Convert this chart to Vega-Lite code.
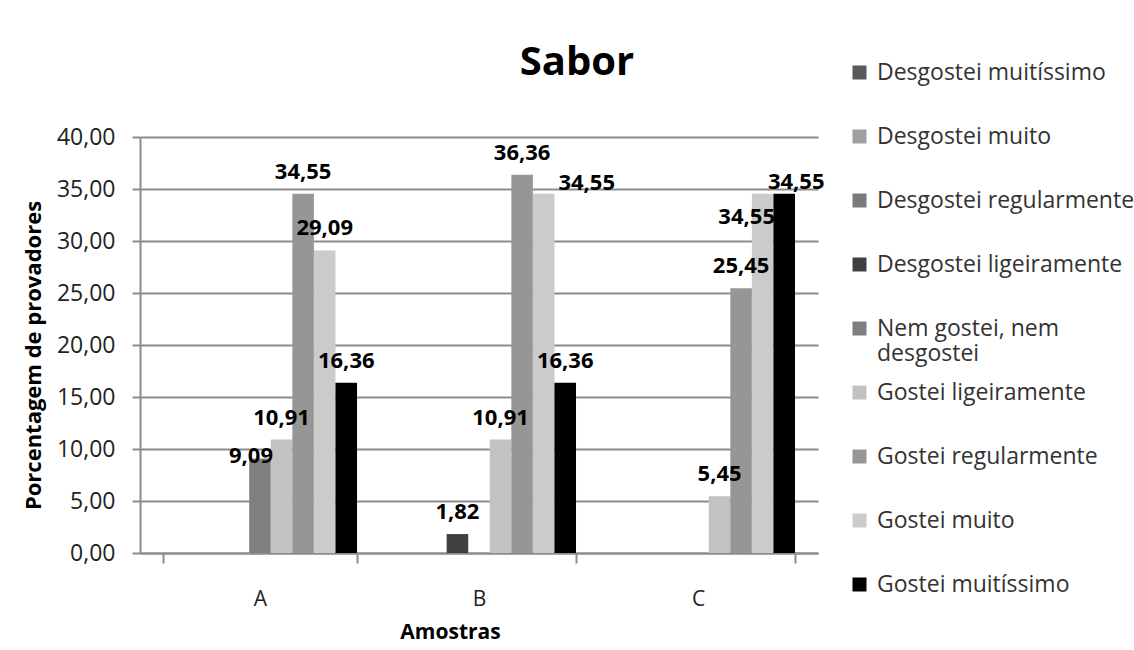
{
  "$schema": "https://vega.github.io/schema/vega-lite/v6.json",
  "width": 678,
  "height": 416,
  "autosize": {"type": "none"},
  "padding": {"left": 140, "top": 137, "right": 316, "bottom": 97},
  "background": "white",
  "title": {"text": "Sabor", "frame": "group", "fontSize": 40, "font": "Open Sans", "fontWeight": "bold", "color": "#000000", "anchor": "middle", "dx": 98, "offset": -54, "baseline": "alphabetic"},
  "data": {"values": [
    {"amostra": "A", "resposta": "Desgostei muitíssimo", "valor": 0},
    {"amostra": "A", "resposta": "Desgostei muito", "valor": 0},
    {"amostra": "A", "resposta": "Desgostei regularmente", "valor": 0},
    {"amostra": "A", "resposta": "Desgostei ligeiramente", "valor": 0},
    {"amostra": "A", "resposta": "Nem gostei, nem desgostei", "valor": 9.09},
    {"amostra": "A", "resposta": "Gostei ligeiramente", "valor": 10.91},
    {"amostra": "A", "resposta": "Gostei regularmente", "valor": 34.55},
    {"amostra": "A", "resposta": "Gostei muito", "valor": 29.09},
    {"amostra": "A", "resposta": "Gostei muitíssimo", "valor": 16.36},
    {"amostra": "B", "resposta": "Desgostei muitíssimo", "valor": 0},
    {"amostra": "B", "resposta": "Desgostei muito", "valor": 0},
    {"amostra": "B", "resposta": "Desgostei regularmente", "valor": 0},
    {"amostra": "B", "resposta": "Desgostei ligeiramente", "valor": 1.82},
    {"amostra": "B", "resposta": "Nem gostei, nem desgostei", "valor": 0},
    {"amostra": "B", "resposta": "Gostei ligeiramente", "valor": 10.91},
    {"amostra": "B", "resposta": "Gostei regularmente", "valor": 36.36},
    {"amostra": "B", "resposta": "Gostei muito", "valor": 34.55},
    {"amostra": "B", "resposta": "Gostei muitíssimo", "valor": 16.36},
    {"amostra": "C", "resposta": "Desgostei muitíssimo", "valor": 0},
    {"amostra": "C", "resposta": "Desgostei muito", "valor": 0},
    {"amostra": "C", "resposta": "Desgostei regularmente", "valor": 0},
    {"amostra": "C", "resposta": "Desgostei ligeiramente", "valor": 0},
    {"amostra": "C", "resposta": "Nem gostei, nem desgostei", "valor": 0},
    {"amostra": "C", "resposta": "Gostei ligeiramente", "valor": 5.45},
    {"amostra": "C", "resposta": "Gostei regularmente", "valor": 25.45},
    {"amostra": "C", "resposta": "Gostei muito", "valor": 34.55},
    {"amostra": "C", "resposta": "Gostei muitíssimo", "valor": 34.55}
  ]},
  "transform": [{"calculate": "replace(format(datum.valor, '.2f'), '.', ',')", "as": "rotulo"}],
  "encoding": {
    "x": {
      "field": "amostra", "type": "nominal",
      "scale": {"paddingInner": 0.114, "paddingOuter": 0.105},
      "axis": {
        "title": "Amostras", "titleFont": "Open Sans", "titleFontSize": 21, "titleFontWeight": "bold", "titleColor": "#000000",
        "titleX": 310, "titleY": 79, "titleBaseline": "middle", "titleAnchor": null,
        "labelAngle": 0, "labelFont": "Open Sans", "labelFontSize": 21, "labelColor": "#222222", "labelPadding": 25,
        "tickBand": "extent", "tickSize": 10, "tickWidth": 2, "tickColor": "#8c8c8c",
        "domainColor": "#8c8c8c", "domainWidth": 2, "grid": false
      }
    },
    "xOffset": {
      "field": "resposta", "type": "nominal",
      "scale": {"domain": ["Desgostei muitíssimo", "Desgostei muito", "Desgostei regularmente", "Desgostei ligeiramente", "Nem gostei, nem desgostei", "Gostei ligeiramente", "Gostei regularmente", "Gostei muito", "Gostei muitíssimo"]}
    },
    "y": {
      "field": "valor", "type": "quantitative",
      "scale": {"domain": [0, 40]},
      "axis": {
        "title": "Porcentagem de provadores", "titleFont": "Open Sans", "titleFontSize": 22, "titleFontWeight": "bold", "titleColor": "#000000",
        "titleX": -107, "titleY": 218, "titleBaseline": "middle", "titleAnchor": null,
        "values": [0, 5, 10, 15, 20, 25, 30, 35, 40],
        "labelExpr": "replace(format(datum.value, '.2f'), '.', ',')",
        "labelFont": "Open Sans", "labelFontSize": 23, "labelColor": "#222222", "labelPadding": 17,
        "tickSize": 8, "tickWidth": 2, "tickColor": "#8c8c8c",
        "domainColor": "#8c8c8c", "domainWidth": 2,
        "grid": true, "gridColor": "#8c8c8c", "gridWidth": 2
      }
    }
  },
  "layer": [
    {
      "mark": {"type": "bar"},
      "encoding": {
        "color": {
          "field": "resposta", "type": "nominal",
          "scale": {
            "domain": ["Desgostei muitíssimo", "Desgostei muito", "Desgostei regularmente", "Desgostei ligeiramente", "Nem gostei, nem desgostei", "Gostei ligeiramente", "Gostei regularmente", "Gostei muito", "Gostei muitíssimo"],
            "range": ["#595959", "#a0a0a0", "#7a7a7a", "#404040", "#7f7f7f", "#c2c2c2", "#969696", "#cbcbcb", "#000000"]
          },
          "legend": {
            "title": null, "orient": "none", "legendX": 708, "legendY": -76, "padding": 0,
            "symbolType": "square", "symbolSize": 196, "symbolStrokeWidth": 0,
            "labelFont": "Open Sans", "labelFontSize": 23, "labelColor": "#333333", "labelOffset": 6, "labelLimit": 400,
            "rowPadding": 15,
            "labelExpr": "datum.label == 'Nem gostei, nem desgostei' ? ['Nem gostei, nem', 'desgostei'] : [datum.label, '']"
          }
        }
      }
    },
    {
      "transform": [{"filter": "datum.valor > 0"}],
      "mark": {
        "type": "text", "baseline": "bottom", "font": "Open Sans", "fontWeight": "bold", "fontSize": 22, "color": "#000000",
        "dx": {"expr": "datum.amostra == 'A' && datum.resposta == 'Nem gostei, nem desgostei' ? -9 : datum.amostra == 'B' && datum.resposta == 'Gostei muito' ? 43 : datum.amostra == 'C' && datum.resposta == 'Gostei muito' ? -16 : datum.amostra == 'C' && datum.resposta == 'Gostei muitíssimo' ? 12 : 0"},
        "dy": {"expr": "datum.amostra == 'A' && datum.resposta == 'Nem gostei, nem desgostei' ? 10 : datum.amostra == 'B' && datum.resposta == 'Gostei muito' ? 1 : datum.amostra == 'C' && datum.resposta == 'Gostei muito' ? 35 : datum.amostra == 'C' && datum.resposta == 'Gostei muitíssimo' ? 0 : -10"}
      },
      "encoding": {"text": {"field": "rotulo"}}
    }
  ],
  "config": {"view": {"stroke": null}}
}
